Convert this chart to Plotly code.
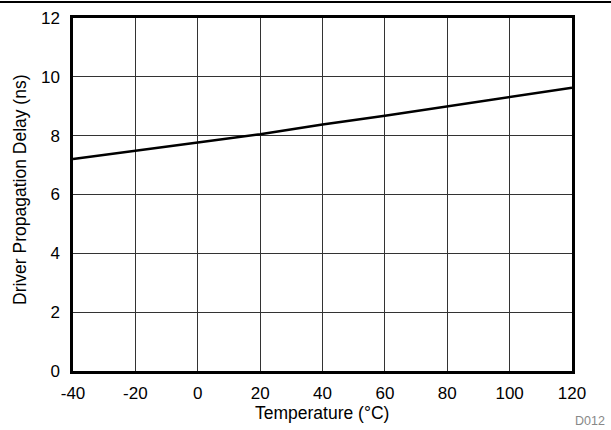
import plotly.graph_objects as go

temperature = [-40, -20, 0, 20, 40, 60, 80, 100, 120]
delay_ns = [7.21, 7.48, 7.77, 8.05, 8.38, 8.68, 9.0, 9.32, 9.63]
x_ticks = [-40, -20, 0, 20, 40, 60, 80, 100, 120]
y_ticks = [0, 2, 4, 6, 8, 10, 12]

W, H = 611, 430
L, R, T, B = 73, 39, 18, 59
pw, ph = W - L - R, H - T - B

def px_x(x):
    return (x - L) / pw

def px_y(y):
    return (T + ph - y) / ph

fig = go.Figure()
fig.add_trace(go.Scatter(x=temperature, y=delay_ns, mode="lines",
                         line=dict(color="black", width=2.5), showlegend=False))

fam = "Liberation Sans, Arial, sans-serif"
tfont = dict(family=fam, size=17, color="black")
titlefont = dict(family=fam, size=17.5, color="black")
fig.update_layout(
    width=W, height=H,
    margin=dict(l=L, r=R, t=T, b=B, autoexpand=False),
    paper_bgcolor="white", plot_bgcolor="white",
    font=tfont,
    xaxis=dict(range=[-40, 120], tickvals=x_ticks, ticktext=[str(v) for v in x_ticks],
               showgrid=True, gridcolor="#333", gridwidth=1,
               showline=True, linecolor="black", linewidth=2.5, mirror=True,
               ticks="", zeroline=False, tickfont=tfont, automargin=False,
               ticklabelstandoff=5),
    yaxis=dict(range=[0, 12], tickvals=y_ticks, ticktext=[str(v) for v in y_ticks],
               showgrid=True, gridcolor="#333", gridwidth=1,
               showline=True, linecolor="black", linewidth=2.5, mirror=True,
               ticks="", zeroline=False, tickfont=tfont, automargin=False,
               ticklabelstandoff=7),
    shapes=[dict(type="line", xref="paper", yref="paper",
                 x0=px_x(0), x1=px_x(W), y0=px_y(2), y1=px_y(2),
                 line=dict(color="black", width=2))],
    annotations=[
        dict(text="Temperature (°C)", xref="paper", yref="paper",
             x=px_x(322), y=px_y(413), xanchor="center", yanchor="middle",
             showarrow=False, font=titlefont, borderpad=0),
        dict(text="Driver Propagation Delay (ns)", xref="paper", yref="paper",
             x=px_x(20), y=px_y(190), xanchor="center", yanchor="middle",
             textangle=-90, showarrow=False, font=titlefont, borderpad=0),
        dict(text="D012", xref="paper", yref="paper",
             x=px_x(606), y=px_y(421), xanchor="right", yanchor="middle",
             showarrow=False, borderpad=0,
             font=dict(family=fam, size=12.5, color="#888")),
    ],
)

fig.write_html("out.html", config={"displayModeBar": False},
               post_script="document.body.style.margin='0';document.body.style.padding='0';")
